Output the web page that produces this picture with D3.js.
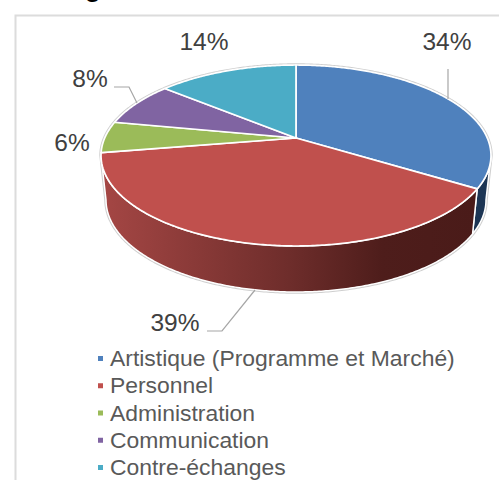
<!DOCTYPE html>
<html>
<head>
<meta charset="utf-8">
<script src="https://cdn.jsdelivr.net/npm/d3@7"></script>
<style>
  body { margin: 0; background: #fff; }
  text { font-family: "Liberation Sans", Arial, sans-serif; }
</style>
</head>
<body>
<script>
// valori
const categories = ["Artistique (Programme et Marché)", "Personnel", "Administration", "Communication", "Contre-échanges"];
const values = [33.8, 38.6, 5.6, 8, 14];
const colors = ["#4f81bd", "#c0504d", "#9bbb59", "#8064a2", "#4bacc6"];
const sideColors = ["#1c3554", "#4d1c1a", "#55682c", "#44345a", "#216b80"];

const width = 499, height = 480;

// parametri della prospettiva
const cx = 296, apexY = 138;
const a = 191.3, b = 87.1, k = -0.1934;
const ellipseY = 155.5;
const bottomY = 200, bottomRx = 190 / 195, bottomRy = 92 / 90.5;

const svg = d3.select("body").append("svg")
  .attr("width", width)
  .attr("height", height)
  .style("display", "block");

// cornice
svg.append("path")
  .attr("d", "M 15.5 480 V 15.5 H 499")
  .attr("fill", "none")
  .attr("stroke", "#dcdcdc")
  .attr("stroke-width", 2);

// pezzo del titolo tagliato in alto
svg.append("text")
  .attr("x", 84.5)
  .attr("y", -4)
  .attr("font-size", 30)
  .attr("fill", "#000")
  .text("g");

// punto sul bordo superiore per un angolo
function topPoint(t) {
  let u = Math.sin(t), v = -Math.cos(t), w = 1 + k * v;
  return [cx + a * u / w, apexY + b * v / w];
}

function bottomPoint(t) {
  let p = topPoint(t);
  return [cx + (p[0] - cx) * bottomRx, bottomY + (p[1] - ellipseY) * bottomRy];
}

function sample(t0, t1, fn) {
  let n = Math.max(2, Math.ceil(Math.abs(t1 - t0) / 0.01));
  return d3.range(n + 1).map(i => fn(t0 + (t1 - t0) * i / n));
}

const line = d3.line();
const slices = d3.pie().sort(null)(values);

const sideMin = Math.PI - Math.acos(-k), sideMax = Math.PI + Math.acos(-k);

// gradiente del fianco rosso
const defs = svg.append("defs");
const grad = defs.append("linearGradient")
  .attr("id", "sideRed")
  .attr("gradientUnits", "userSpaceOnUse")
  .attr("x1", 104).attr("x2", 475).attr("y1", 0).attr("y2", 0);
grad.append("stop").attr("offset", "0%").attr("stop-color", "#a44644");
grad.append("stop").attr("offset", "50%").attr("stop-color", "#6e2d2b");
grad.append("stop").attr("offset", "75%").attr("stop-color", "#4e1d1b");
grad.append("stop").attr("offset", "100%").attr("stop-color", "#4a1b19");

// contorno grigio esterno
let outline = sample(sideMax, 2 * Math.PI + sideMin, topPoint).concat(sample(sideMin, sideMax, bottomPoint));
svg.append("path")
  .attr("d", line(outline) + "Z")
  .attr("fill", "#fff")
  .attr("stroke", "#cfcfcf")
  .attr("stroke-width", 3.5);

// fianchi visibili
slices.forEach(function (s, i) {
  let t0 = Math.max(s.startAngle, sideMin), t1 = Math.min(s.endAngle, sideMax);
  if (t1 <= t0) return;
  let pts = sample(t0, t1, topPoint).concat(sample(t1, t0, bottomPoint));
  svg.append("path")
    .attr("d", line(pts) + "Z")
    .attr("fill", i == 1 ? "url(#sideRed)" : sideColors[i])
    .attr("stroke", "#fff")
    .attr("stroke-width", 1.5);
});

// fette superiori
slices.forEach(function (s, i) {
  let pts = [[cx, apexY]].concat(sample(s.startAngle, s.endAngle, topPoint));
  svg.append("path")
    .attr("d", line(pts) + "Z")
    .attr("fill", colors[i])
    .attr("stroke", "#fff")
    .attr("stroke-width", 1.7)
    .attr("stroke-linejoin", "round");
});

// linee guida
const leaders = [
  [[448, 69], [448, 99]],
  [[207, 331], [222, 331], [255, 290]],
  null,
  [[114, 87], [129, 87], [137, 103]],
  null
];
leaders.forEach(function (l) {
  if (!l) return;
  svg.append("path")
    .attr("d", line(l))
    .attr("fill", "none")
    .attr("stroke", "#a6a6a6")
    .attr("stroke-width", 1.2);
});

// etichette percentuali
const labelX = [447, 175, 72, 90, 204];
const labelY = [50, 331, 151, 87, 50];
slices.forEach(function (s, i) {
  svg.append("text")
    .attr("x", labelX[i])
    .attr("y", labelY[i])
    .attr("text-anchor", "middle")
    .attr("font-size", 24.5)
    .attr("fill", "#404040")
    .text(Math.round(values[i]) + "%");
});

// legenda
const legendY = d3.scalePoint().domain(categories).range([366, 475]);
categories.forEach(function (c, i) {
  svg.append("rect")
    .attr("x", 98)
    .attr("y", legendY(c) - 10)
    .attr("width", 5)
    .attr("height", 5)
    .attr("fill", colors[i]);
  svg.append("text")
    .attr("x", 110)
    .attr("y", legendY(c))
    .attr("font-size", 22.9)
    .attr("fill", "#595959")
    .text(c);
});
</script>
</body>
</html>
